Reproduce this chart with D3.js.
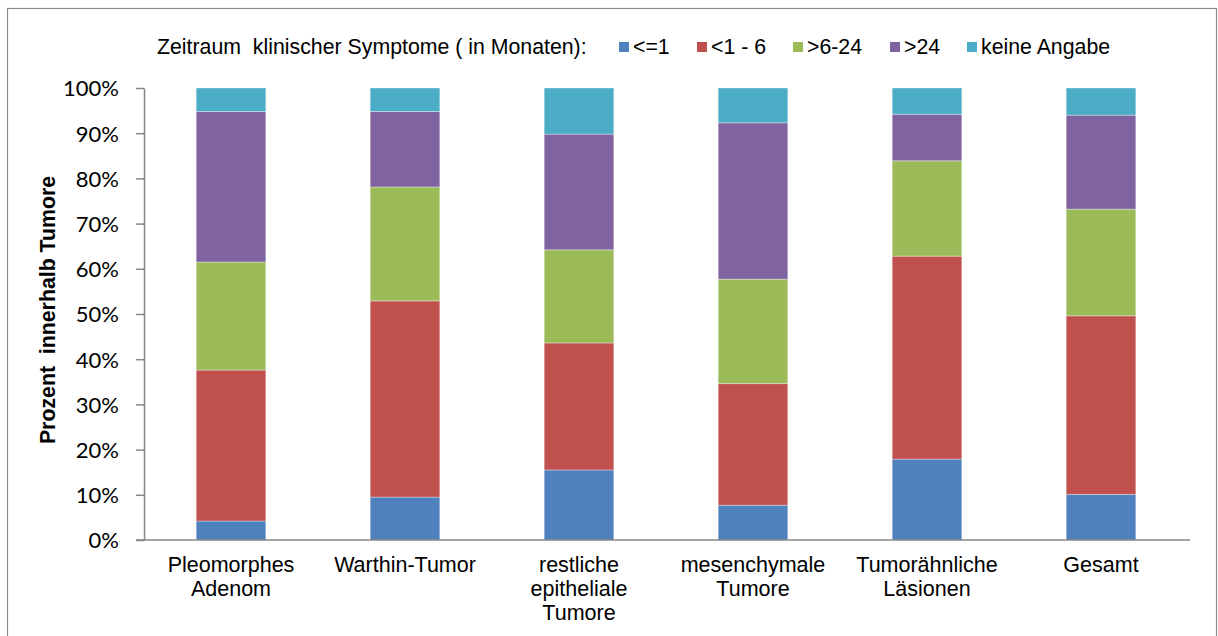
<!DOCTYPE html>
<html><head><meta charset="utf-8">
<script src="https://cdn.jsdelivr.net/npm/d3@7"></script>
<style>body{margin:0;background:#fff}svg{display:block}</style>
</head><body>
<script>
const categories = [["Pleomorphes","Adenom"],["Warthin-Tumor"],["restliche","epitheliale","Tumore"],["mesenchymale","Tumore"],["Tumorähnliche","Läsionen"],["Gesamt"]];
const seriesNames = ["<=1","<1 - 6",">6-24",">24","keine Angabe"];
const seriesColors = ["#4F81BD","#C0504D","#9BBB59","#8064A2","#4BACC6"];
const s_le1   = [4.2, 9.5, 15.5, 7.7, 17.9, 10.1];
const s_1_6   = [33.4, 43.4, 28.1, 26.9, 44.9, 39.5];
const s_6_24  = [23.9, 25.2, 20.6, 23.1, 21.1, 23.6];
const s_gt24  = [33.3, 16.7, 25.6, 34.6, 10.3, 20.8];
const s_keine = [5.2, 5.2, 10.2, 7.7, 5.8, 6.0];
const yTicks = [0,10,20,30,40,50,60,70,80,90,100];
const legendTitle = "Zeitraum  klinischer Symptome ( in Monaten):";
const yTitle = "Prozent  innerhalb Tumore";

const W=1218,H=636;
const svg=d3.select("body").append("svg").attr("width",W).attr("height",H);
svg.append("rect").attr("x",7.5).attr("y",8.5).attr("width",1209).attr("height",700)
  .attr("fill","#fff").attr("stroke","#8c8c8c").attr("stroke-width",1.2);

const x0=144,x1=1188,yTop=88,yBot=540;
const keys=categories.map((c,i)=>i);
const x=d3.scaleBand().domain(keys).range([x0,x1]).paddingInner(0.6).paddingOuter(0.3);
const y=d3.scaleLinear().domain([0,100]).range([yBot,yTop]);

const table=keys.map(i=>({i, a:s_le1[i], b:s_1_6[i], c:s_6_24[i], d:s_gt24[i], e:s_keine[i]}));
const stack=d3.stack().keys(["a","b","c","d","e"]).offset(d3.stackOffsetExpand);
const layers=stack(table);

svg.append("g").selectAll("g").data(layers).join("g")
  .attr("fill",(d,k)=>seriesColors[k])
  .selectAll("rect").data(d=>d).join("rect")
  .attr("x",d=>x(d.data.i)).attr("width",x.bandwidth())
  .attr("y",d=>y(d[1]*100)).attr("height",d=>y(d[0]*100)-y(d[1]*100))
  .attr("stroke","#ffffff").attr("stroke-opacity",0.35).attr("stroke-width",1);

// y axis
const yAxis=d3.axisLeft(y).tickValues(yTicks).tickFormat(d=>d+"%").tickSize(8).tickSizeOuter(0);
const gy=svg.append("g").attr("transform",`translate(${x0},0)`).call(yAxis);
gy.select(".domain").attr("stroke","#868686").attr("stroke-width",1.5);
gy.selectAll(".tick line").attr("stroke","#868686").attr("stroke-width",1.5);
gy.selectAll(".tick text").attr("x",-25).attr("dy","0.36em")
  .attr("font-family","Lato, 'Open Sans', sans-serif").attr("font-size",22).attr("fill","#000");

// x axis
const xAxis=d3.axisBottom(x).tickSize(0).tickFormat("");
const gx=svg.append("g").attr("transform",`translate(0,${yBot})`).call(xAxis);
gx.select(".domain").attr("stroke","#868686").attr("stroke-width",1.5).attr("d",`M${x0-8},0H${x1+2}`);
gx.selectAll(".tick").each(function(i){
  const t=d3.select(this).append("text").attr("fill","#000").attr("text-anchor","middle")
    .attr("font-family","'Liberation Sans', Arial, sans-serif").attr("font-size",21.5);
  categories[i].forEach((line,j)=>t.append("tspan").attr("x",0).attr("y",32+j*24).text(line));
});

// y title
svg.append("text").attr("transform","translate(55,310) rotate(-90)").attr("text-anchor","middle")
  .attr("font-family","'Liberation Sans', Arial, sans-serif").attr("font-size",21.3).attr("font-weight","bold")
  .attr("fill","#000").attr("xml:space","preserve").text(yTitle);

// legend
const lg=svg.append("g").attr("font-family","'Liberation Sans', Arial, sans-serif").attr("font-size",21.3).attr("fill","#000");
lg.append("text").attr("x",157).attr("y",54).attr("xml:space","preserve").text(legendTitle);
const legX=[619,697,793,890,967];
seriesNames.forEach((n,k)=>{
  lg.append("rect").attr("x",legX[k]).attr("y",42).attr("width",10).attr("height",10).attr("fill",seriesColors[k]);
  lg.append("text").attr("x",legX[k]+14).attr("y",54).text(n);
});
</script>
</body></html>
